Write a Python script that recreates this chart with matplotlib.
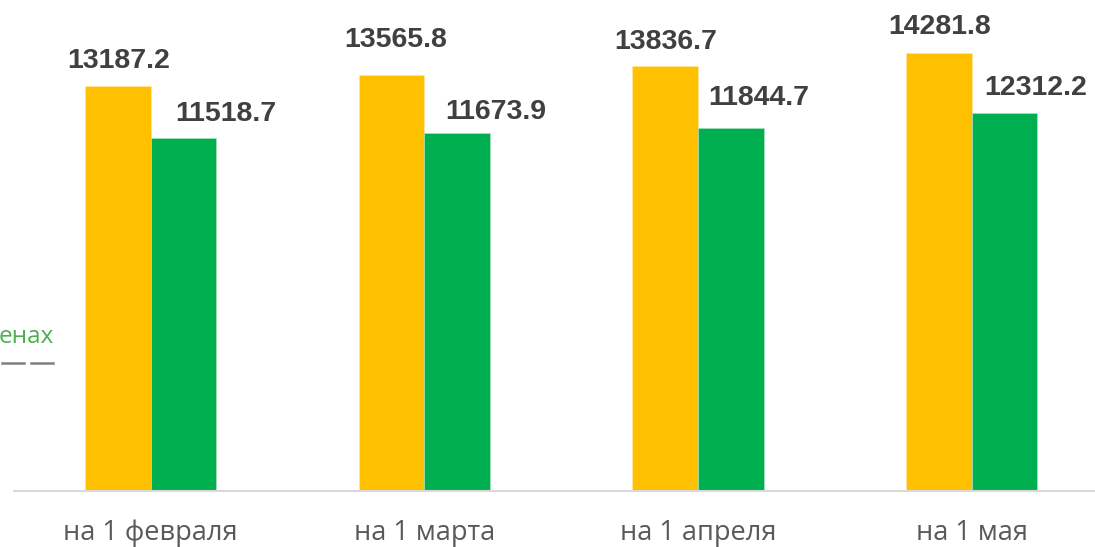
import numpy as np
import matplotlib
matplotlib.use('Agg')
import matplotlib.pyplot as plt
from matplotlib.lines import Line2D

categories = ['на 1 февраля', 'на 1 марта', 'на 1 апреля', 'на 1 мая']
nominal = [13187.2, 13565.8, 13836.7, 14281.8]
real = [11518.7, 11673.9, 11844.7, 12312.2]

# label offsets (px) from the top centre of each bar, as placed in the original
nominal_off = [(1, 18), (4, 28), (1, 17), (0.5, 19)]
real_off = [(42, 17), (38.5, 14), (28, 23), (31.5, 18)]

yellow = '#FFC000'
green = '#00B050'
px = 72 / 100

fig = plt.figure(figsize=(10.95, 5.47), dpi=100)
ax = fig.add_axes([14 / 1095, 56 / 547, 1081 / 1095, 491 / 547])

x = np.arange(len(categories))
w = 0.24
ax.bar(x - w / 2, nominal, w, color=yellow, edgecolor='#FFE699', linewidth=0.6)
ax.bar(x + w / 2, real, w, color=green, edgecolor='#9FE0B8', linewidth=0.6)

for xi, v, (dx, dy) in zip(x - w / 2, nominal, nominal_off):
    ax.annotate(f'{v:.1f}', xy=(xi, v), xytext=(dx * px, dy * px), textcoords='offset points',
                ha='center', va='baseline', fontsize=20.5, fontweight='bold',
                family='Liberation Sans', color='#404040')
for xi, v, (dx, dy) in zip(x + w / 2, real, real_off):
    ax.annotate(f'{v:.1f}', xy=(xi, v), xytext=(dx * px, dy * px), textcoords='offset points',
                ha='center', va='baseline', fontsize=20.5, fontweight='bold',
                family='Liberation Sans', color='#404040')

ax.set_xlim(-0.5, 3.451)
ax.set_ylim(0, 16000)
ax.set_yticks([])
ax.set_xticks(x)
ax.set_xticklabels(categories, fontsize=19.5, family='Open Sans', color='#595959')
ax.tick_params(axis='x', length=0, pad=20)
for s in ['top', 'right', 'left']:
    ax.spines[s].set_visible(False)
ax.spines['bottom'].set_color('#D9D9D9')
ax.spines['bottom'].set_linewidth(1.5)

# legend remnant cut off at the left edge
fig.text(54 / 1095, 1 - 343 / 547, 'енах', ha='right', va='baseline',
         fontsize=17.5, family='Open Sans', color='#4CAF50')
for x0, x1 in [(2, 24), (31, 53)]:
    fig.add_artist(Line2D([x0 / 1095, x1 / 1095], [1 - 363 / 547] * 2,
                          color='#7F7F7F', linewidth=1.8))

fig.savefig('out.png', dpi=100)
